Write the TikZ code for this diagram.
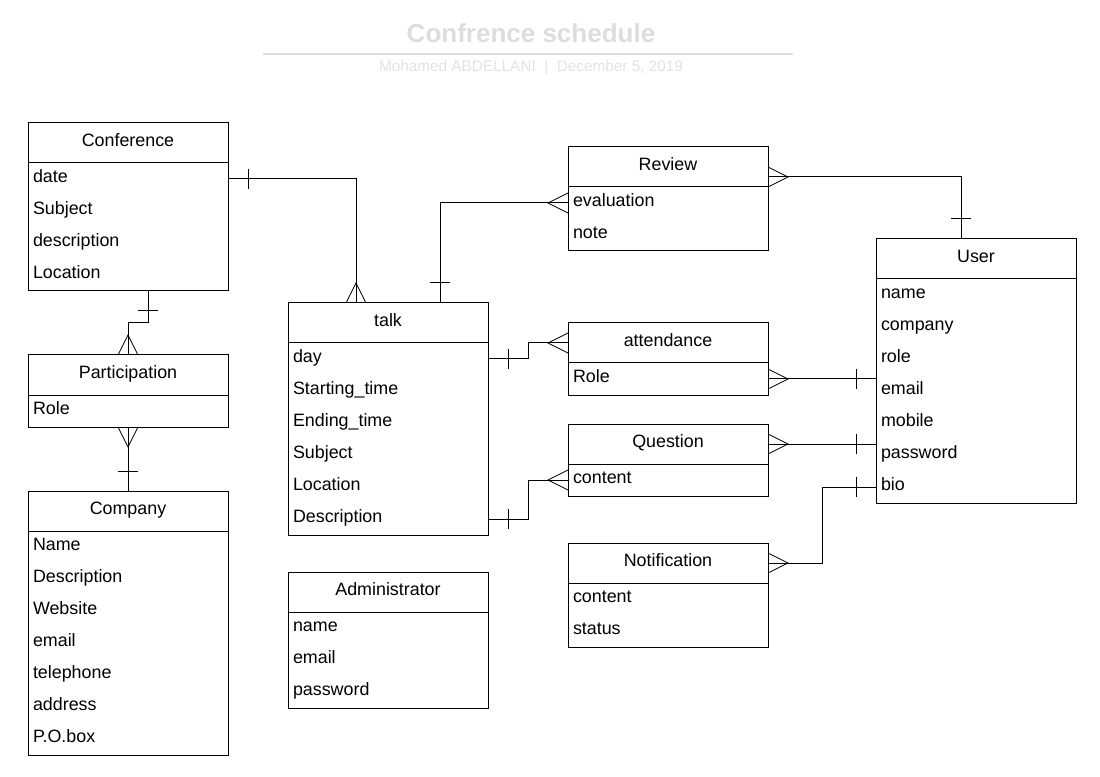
\documentclass[tikz,border=0pt]{standalone}
\usepackage{fontspec}
\setmainfont{Liberation Sans}
\usetikzlibrary{calc,fit}
\definecolor{titlegray}{RGB}{221,221,221}
\definecolor{subgray}{RGB}{226,226,226}
\begin{document}
\begin{tikzpicture}[x=0.75pt,y=0.75pt,yscale=-1,
  every node/.style={font=\fontsize{13.4}{16}\selectfont},
  head/.style={draw, line width=0.75pt, minimum width=150pt, minimum height=30pt, inner sep=0pt, outer sep=0pt, text height=8.5pt, text depth=3.5pt},
  row/.style={inner xsep=3.75pt, inner ysep=0pt, outer sep=0pt, text width=142.5pt, align=left, minimum height=24pt, text height=8.5pt, text depth=3.5pt},
  body/.style={draw, line width=0.75pt, inner sep=0pt, outer sep=0pt},
  link/.style={line width=0.75pt},
  foot/.style={line width=0.6pt}]
\useasboundingbox (0,0) rectangle (1100,777);

% Title
\node[font=\fontsize{19.5}{22}\bfseries\selectfont, text=titlegray] (title) at (531,33) {Confrence schedule};
\draw[titlegray, line width=1.5pt] (263,54) -- (793,54);
\node[font=\fontsize{11.5}{13}\selectfont, text=subgray] (sub) at (531,68) {Mohamed ABDELLANI\ \ |\ \ December 5, 2019};

%Entity: Conference
\node[head] (conf) at (128,143) {Conference};
\node[row] (conf1) at (128,179) {date};
\node[row] (conf2) at (128,211) {Subject};
\node[row] (conf3) at (128,243) {description};
\node[row] (conf4) at (128,275) {Location};
\node[body, fit=(conf1)(conf4)] (confB) {};

%Entity: Participation
\node[head] (par) at (128,375) {Participation};
\node[row] (par1) at (128,411) {Role};
\node[body, fit=(par1)] (parB) {};

%Entity: Company
\node[head] (com) at (128,511) {Company};
\node[row] (com1) at (128,547) {Name};
\node[row] (com2) at (128,579) {Description};
\node[row] (com3) at (128,611) {Website};
\node[row] (com4) at (128,643) {email};
\node[row] (com5) at (128,675) {telephone};
\node[row] (com6) at (128,707) {address};
\node[row] (com7) at (128,739) {P.O.box};
\node[body, fit=(com1)(com7)] (comB) {};

%Entity: talk
\node[head] (talk) at (388,323) {talk};
\node[row] (talk1) at (388,359) {day};
\node[row] (talk2) at (388,391) {Starting\_time};
\node[row] (talk3) at (388,423) {Ending\_time};
\node[row] (talk4) at (388,455) {Subject};
\node[row] (talk5) at (388,487) {Location};
\node[row] (talk6) at (388,519) {Description};
\node[body, fit=(talk1)(talk6)] (talkB) {};

%Entity: Administrator
\node[head] (adm) at (388,592) {Administrator};
\node[row] (adm1) at (388,628) {name};
\node[row] (adm2) at (388,660) {email};
\node[row] (adm3) at (388,692) {password};
\node[body, fit=(adm1)(adm3)] (admB) {};

%Entity: Review
\node[head] (rev) at (668,167) {Review};
\node[row] (rev1) at (668,203) {evaluation};
\node[row] (rev2) at (668,235) {note};
\node[body, fit=(rev1)(rev2)] (revB) {};

%Entity: attendance
\node[head] (att) at (668,343) {attendance};
\node[row] (att1) at (668,379) {Role};
\node[body, fit=(att1)] (attB) {};

%Entity: Question
\node[head] (que) at (668,444) {Question};
\node[row] (que1) at (668,480) {content};
\node[body, fit=(que1)] (queB) {};

%Entity: Notification
\node[head] (notif) at (668,563) {Notification};
\node[row] (notif1) at (668,599) {content};
\node[row] (notif2) at (668,631) {status};
\node[body, fit=(notif1)(notif2)] (notifB) {};

%Entity: User
\node[head] (usr) at (976,259) {User};
\node[row] (usr1) at (976,295) {name};
\node[row] (usr2) at (976,327) {company};
\node[row] (usr3) at (976,359) {role};
\node[row] (usr4) at (976,391) {email};
\node[row] (usr5) at (976,423) {mobile};
\node[row] (usr6) at (976,455) {password};
\node[row] (usr7) at (976,487) {bio};
\node[body, fit=(usr1)(usr7)] (usrB) {};

%Connector: Conference -- talk
\draw[link] (conf1.east) -| ($(talk.north west)+(68,0)$);
\draw[link] ($(conf1.east)+(20,-10)$) -- ++(0,20);
\draw[foot] ($(talk.north west)+(58,0)$) -- ($(talk.north west)+(68,-20)$) -- ($(talk.north west)+(78,0)$);

%Connector: talk -- Review
\draw[link] ($(talk.north west)+(152,0)$) |- (rev1.west);
\draw[link] ($(talk.north west)+(142,-20)$) -- ++(20,0);
\draw[foot] ($(rev1.west)+(0,-10)$) -- ($(rev1.west)+(-20,0)$) -- ($(rev1.west)+(0,10)$);

%Connector: Review -- User
\draw[link] ($(rev.north east)+(0,30)$) -| ($(usr.north)+(-15,0)$);
\draw[link] ($(usr.north)+(-25,-20)$) -- ++(20,0);
\draw[foot] ($(rev.north east)+(0,20)$) -- ($(rev.north east)+(20,30)$) -- ($(rev.north east)+(0,40)$);

%Connector: Conference -- Participation
\draw[link] ($(confB.south)+(20,0)$) -- ++(0,32) -| (par.north);
\draw[link] ($(confB.south)+(10,20)$) -- ++(20,0);
\draw[foot] ($(par.north)+(-10,0)$) -- ($(par.north)+(0,-20)$) -- ($(par.north)+(10,0)$);

%Connector: Participation -- Company
\draw[link] (parB.south) -- (com.north);
\draw[foot] ($(parB.south)+(-10,0)$) -- ($(parB.south)+(0,20)$) -- ($(parB.south)+(10,0)$);
\draw[link] ($(com.north)+(-10,-20)$) -- ++(20,0);

%Connector: talk -- attendance
\draw[link] (talk1.east) -- ++(40,0) |- (att.west);
\draw[link] ($(talk1.east)+(20,-10)$) -- ++(0,20);
\draw[foot] ($(att.west)+(0,-10)$) -- ($(att.west)+(-20,0)$) -- ($(att.west)+(0,10)$);

%Connector: talk -- Question
\draw[link] (talk6.east) -- ++(40,0) |- (que1.west);
\draw[link] ($(talk6.east)+(20,-10)$) -- ++(0,20);
\draw[foot] ($(que1.west)+(0,-10)$) -- ($(que1.west)+(-20,0)$) -- ($(que1.west)+(0,10)$);

%Connector: attendance -- User
\draw[link] (att1.east) -- (att1.east -| usrB.west);
\draw[foot] ($(att1.east)+(0,-10)$) -- ($(att1.east)+(20,0)$) -- ($(att1.east)+(0,10)$);
\draw[link] ($(att1.east -| usrB.west)+(-20,-10)$) -- ++(0,20);

%Connector: Question -- User
\draw[link] (que.east) -- (que.east -| usrB.west);
\draw[foot] ($(que.east)+(0,-10)$) -- ($(que.east)+(20,0)$) -- ($(que.east)+(0,10)$);
\draw[link] ($(que.east -| usrB.west)+(-20,-10)$) -- ++(0,20);

%Connector: Notification -- User
\draw[link] (notif.east) -- ++(54,0) |- (usr7.west);
\draw[foot] ($(notif.east)+(0,-10)$) -- ($(notif.east)+(20,0)$) -- ($(notif.east)+(0,10)$);
\draw[link] ($(usr7.west)+(-20,-10)$) -- ++(0,20);

\end{tikzpicture}
\end{document}
